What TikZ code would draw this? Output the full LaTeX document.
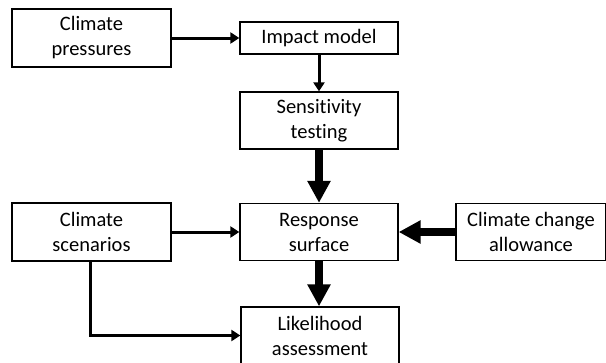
\documentclass[tikz,border=0pt]{standalone}
\usepackage{fontspec}
\setmainfont{Carlito}[Ligatures=NoCommon]
\usetikzlibrary{arrows.meta}
\begin{document}
\begin{tikzpicture}[x=1pt,y=-1pt,
  box/.style={draw=black,line width=1.3pt,minimum width=158pt,minimum height=57pt,
    inner sep=0pt,align=center,font=\fontsize{20.5}{25}\selectfont,anchor=center},
  thinarrow/.style={line width=3pt,-{Triangle[length=9pt,width=11pt]}},
  thickarrow/.style={line width=8pt,-{Triangle[length=22pt,width=22pt]}}]
\useasboundingbox (0,0) rectangle (606,362);
\node[box,minimum width=159pt,minimum height=58pt] (press) at (91.5,38) {Climate\\pressures};
\node[box,minimum height=32pt] (impact) at (319,38) {Impact model};
\node[box] (sens) at (319,120.5) {Sensitivity\\testing};
\node[box] (resp) at (319,232) {Response\\surface};
\node[box,minimum width=159pt,minimum height=58pt] (scen) at (91.5,232) {Climate\\scenarios};
\node[box,minimum width=150pt] (allow) at (531,232) {Climate change\\allowance};
\node[box] (lik) at (320,335.5) {Likelihood\\assessment};
\draw[thinarrow] (press) -- (impact);
\draw[thinarrow] (impact) -- (sens);
\draw[thickarrow] (sens) -- (resp);
\draw[thinarrow] (scen) -- (resp);
\draw[thickarrow] (allow) -- (resp);
\draw[thickarrow] (resp.south) -- (lik.north -| resp.south);
\draw[thinarrow] ([xshift=-1.5pt]scen.south) |- (lik.west);
\end{tikzpicture}
\end{document}
